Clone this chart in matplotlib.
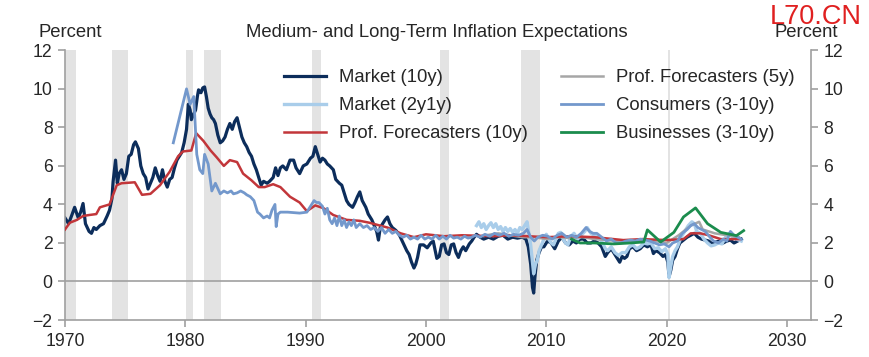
import matplotlib
matplotlib.use("Agg")
import matplotlib.pyplot as plt

plt.rcParams['font.family'] = ['Liberation Sans', 'DejaVu Sans']

# recession periods (start, end) in fractional years
recessions = [(1969.92, 1970.9), (1973.88, 1975.2), (1980.04, 1980.62), (1981.55, 1982.95),
              (1990.55, 1991.25), (2001.2, 2001.9), (2007.92, 2009.45), (2020.1, 2020.3)]

# Market (10y)
mkt10_years = [1970.0, 1970.3, 1970.6, 1970.8, 1971.1, 1971.3, 1971.5, 1971.7, 1972.0, 1972.2,
               1972.4, 1972.6, 1972.9, 1973.2, 1973.5, 1973.7, 1973.9, 1974.0, 1974.2, 1974.35,
               1974.5, 1974.7, 1974.9, 1975.1, 1975.3, 1975.5, 1975.7, 1975.85, 1976.1, 1976.3,
               1976.5, 1976.7, 1976.9, 1977.1, 1977.3, 1977.5, 1977.7, 1977.9, 1978.1, 1978.3,
               1978.5, 1978.7, 1978.9, 1979.1, 1979.3, 1979.5, 1979.7, 1979.9, 1980.1, 1980.25,
               1980.4, 1980.5, 1980.7, 1980.85, 1981.0, 1981.1, 1981.3, 1981.45, 1981.6, 1981.75,
               1981.9, 1982.05, 1982.2, 1982.35, 1982.5, 1982.7, 1982.9, 1983.1, 1983.3, 1983.5,
               1983.7, 1983.9, 1984.1, 1984.3, 1984.5, 1984.7, 1984.9, 1985.1, 1985.3, 1985.5,
               1985.7, 1985.9, 1986.1, 1986.3, 1986.5, 1986.8, 1987.0, 1987.3, 1987.5, 1987.7,
               1987.9, 1988.1, 1988.4, 1988.7, 1989.0, 1989.2, 1989.5, 1989.8, 1990.1, 1990.4,
               1990.6, 1990.8, 1991.0, 1991.2, 1991.4, 1991.6, 1991.8, 1992.0, 1992.3, 1992.5,
               1992.8, 1993.0, 1993.2, 1993.4, 1993.6, 1993.9, 1994.1, 1994.3, 1994.5, 1994.7,
               1995.0, 1995.2, 1995.5, 1995.7, 1995.9, 1996.05, 1996.2, 1996.4, 1996.6, 1996.8,
               1997.0, 1997.2, 1997.5, 1997.8, 1998.1, 1998.4, 1998.6, 1998.8, 1999.0, 1999.15,
               1999.3, 1999.5, 1999.8, 2000.1, 2000.4, 2000.6, 2000.9, 2001.1, 2001.3, 2001.5,
               2001.7, 2001.9, 2002.1, 2002.3, 2002.5, 2002.7, 2002.9, 2003.1, 2003.3, 2003.6,
               2003.8, 2004.0, 2004.2, 2004.5, 2004.8, 2005.2, 2005.6, 2006.0, 2006.4, 2006.8,
               2007.2, 2007.6, 2008.0, 2008.3, 2008.5, 2008.7, 2008.85, 2008.95, 2009.05, 2009.2,
               2009.4, 2009.6, 2009.8, 2010.1, 2010.4, 2010.7, 2011.0, 2011.3, 2011.6, 2011.9,
               2012.2, 2012.5, 2012.8, 2013.1, 2013.4, 2013.7, 2014.0, 2014.3, 2014.6, 2014.9,
               2015.1, 2015.4, 2015.7, 2015.9, 2016.1, 2016.3, 2016.5, 2016.7, 2016.9, 2017.2,
               2017.5, 2017.8, 2018.1, 2018.4, 2018.7, 2018.9, 2019.1, 2019.4, 2019.7, 2019.9,
               2020.1, 2020.2, 2020.35, 2020.5, 2020.7, 2020.9, 2021.1, 2021.4, 2021.7, 2022.0,
               2022.3, 2022.6, 2022.9, 2023.2, 2023.5, 2023.8, 2024.1, 2024.4, 2024.7, 2025.0,
               2025.3, 2025.6, 2025.9, 2026.2]
mkt10_vals = [3.3, 3.0, 3.5, 3.85, 3.3, 3.6, 4.05, 3.0, 2.6, 2.5,
              2.8, 2.7, 2.9, 3.0, 3.4, 3.7, 4.3, 5.2, 6.3, 5.1,
              5.6, 5.8, 5.3, 5.6, 6.5, 6.6, 7.1, 7.25, 6.9, 6.0,
              5.6, 5.4, 4.8, 5.1, 5.4, 5.9, 5.5, 5.2, 5.8, 5.2,
              4.9, 5.3, 5.4, 5.9, 6.3, 6.5, 6.7, 7.2, 7.9, 9.2,
              8.9, 8.4, 8.7, 8.9, 9.6, 9.95, 9.8, 10.05, 10.1, 9.6,
              9.0, 8.7, 8.5, 8.4, 8.2, 7.6, 7.2, 7.3, 7.5, 7.9,
              8.2, 7.9, 8.3, 8.5, 8.0, 7.5, 7.2, 7.0, 6.7, 6.5,
              6.1, 5.8, 5.4, 5.0, 5.2, 5.1, 5.2, 5.4, 5.9, 5.5,
              5.9, 6.0, 5.8, 6.3, 6.3, 5.9, 5.6, 6.0, 6.1, 6.4,
              6.5, 7.0, 6.6, 6.2, 6.4, 6.3, 6.1, 6.0, 5.8, 5.3,
              5.1, 5.0, 4.6, 4.2, 4.0, 3.85, 4.1, 4.4, 4.65, 4.2,
              3.85, 3.5, 3.2, 2.9, 2.6, 2.15, 2.8, 3.0, 3.2, 3.35,
              3.0, 2.8, 2.65, 2.4, 2.0, 1.6, 1.4, 1.0, 0.7, 0.9,
              1.25, 1.9, 1.9, 1.75, 2.0, 2.1, 1.2, 1.3, 1.9, 1.95,
              1.5, 1.4, 1.9, 1.95, 1.5, 1.25, 1.6, 1.8, 1.6, 1.95,
              2.1, 2.3, 2.45, 2.3, 2.2, 2.3, 2.2, 2.35, 2.4, 2.2,
              2.3, 2.25, 2.3, 2.2, 1.8, 0.9, -0.3, -0.6, 0.2, 1.1,
              1.5, 1.8, 1.8, 2.1, 2.0, 1.7, 2.1, 2.3, 2.0, 1.9,
              2.1, 2.0, 2.2, 2.2, 2.0, 2.0, 2.1, 2.0, 1.8, 1.3,
              1.5, 1.7, 1.4, 1.2, 1.0, 1.3, 1.2, 1.3, 1.7, 1.8,
              1.6, 1.7, 1.9, 1.8, 1.9, 1.45, 1.6, 1.5, 1.3, 1.4,
              1.0, 0.25, 0.6, 1.1, 1.3, 1.7, 2.0, 2.15, 2.3, 2.4,
              2.5, 2.3, 2.2, 2.15, 2.1, 1.95, 2.05, 2.1, 2.0, 2.1,
              2.15, 2.0, 2.1, 2.2]

# Market (2y1y)
mkt2y_years = [2004.2, 2004.4, 2004.6, 2004.8, 2005.0, 2005.2, 2005.4, 2005.6, 2005.8, 2006.0,
               2006.2, 2006.4, 2006.6, 2006.8, 2007.0, 2007.2, 2007.4, 2007.6, 2007.8, 2008.0,
               2008.2, 2008.4, 2008.55, 2008.7, 2008.85, 2008.95, 2009.1, 2009.25, 2009.4, 2009.6,
               2009.8, 2010.0, 2010.2, 2010.4, 2010.6, 2010.8, 2011.0, 2011.2, 2011.4, 2011.6,
               2011.8, 2012.0, 2012.3, 2012.6, 2012.9, 2013.2, 2013.4, 2013.7, 2014.0, 2014.3,
               2014.6, 2014.9, 2015.1, 2015.4, 2015.7, 2016.0, 2016.3, 2016.6, 2016.9, 2017.2,
               2017.5, 2017.8, 2018.1, 2018.4, 2018.7, 2019.0, 2019.3, 2019.6, 2019.9, 2020.1,
               2020.2, 2020.35, 2020.5, 2020.7, 2020.9, 2021.2, 2021.5, 2021.8, 2022.1, 2022.3,
               2022.5, 2022.8, 2023.1, 2023.4, 2023.7, 2024.0, 2024.3, 2024.6, 2024.9, 2025.2,
               2025.5, 2025.8, 2026.2]
mkt2y_vals = [2.9, 3.1, 2.8, 3.0, 2.7, 2.9, 3.05, 2.8, 3.0, 2.7,
              2.85, 2.6, 2.8, 2.6, 2.75, 2.55, 2.7, 2.5, 2.8, 2.7,
              2.9, 3.1, 2.5, 1.9, 1.0, 0.4, 0.9, 1.1, 1.6, 1.9,
              2.2, 2.45, 2.2, 2.0, 1.9, 2.2, 2.5, 2.55, 2.2, 2.0,
              1.9, 2.3, 2.5, 2.2, 2.4, 2.6, 2.8, 2.5, 2.4, 2.3,
              2.1, 1.7, 1.6, 1.8, 1.5, 1.35, 1.5, 1.5, 1.8, 1.9,
              1.7, 1.8, 2.0, 1.95, 2.0, 1.7, 1.75, 1.55, 1.7, 1.4,
              0.2, 0.8, 1.3, 1.6, 1.8, 2.3, 2.6, 2.9, 3.1, 3.0,
              2.6, 2.5, 2.2, 2.0, 1.85, 1.9, 2.0, 1.95, 2.3, 2.5,
              2.3, 2.2, 2.1]

# Prof. Forecasters (10y)
spf10_years = [1970.0, 1970.4, 1971.0, 1971.5, 1972.0, 1972.6, 1972.9, 1973.7, 1974.0, 1974.3,
               1974.7, 1975.8, 1976.4, 1977.1, 1977.9, 1978.7, 1979.4, 1979.8, 1980.5, 1980.9,
               1981.2, 1981.5, 1982.1, 1982.6, 1983.2, 1983.7, 1984.3, 1984.8, 1985.5, 1986.1,
               1986.6, 1987.3, 1987.9, 1988.7, 1989.5, 1990.1, 1990.8, 1991.5, 1992.3, 1993.4,
               1994.5, 1995.3, 1996.8, 1997.9, 1999.0, 2000.0, 2001.5, 2003.0, 2005.6, 2007.0,
               2008.5, 2010.0, 2012.0, 2014.0, 2016.4, 2018.0, 2020.0, 2021.4, 2022.0, 2022.8,
               2023.5, 2024.5, 2026.1]
spf10_vals = [2.7, 3.05, 3.2, 3.4, 3.45, 3.5, 3.85, 4.0, 4.5, 5.0,
              5.1, 5.15, 4.5, 4.55, 5.0, 5.7, 6.5, 6.75, 6.8, 7.7,
              7.5, 7.3, 6.8, 6.45, 6.0, 6.3, 6.2, 5.6, 5.25, 4.9,
              4.9, 5.05, 4.9, 4.4, 4.1, 3.65, 3.95, 3.8, 3.45, 3.2,
              3.15, 3.05, 2.8, 2.5, 2.3, 2.45, 2.35, 2.4, 2.35, 2.4,
              2.35, 2.3, 2.35, 2.3, 2.15, 2.2, 2.15, 2.2, 2.5, 2.5,
              2.4, 2.2, 2.2]

# Prof. Forecasters (5y)
spf5_years = [2005.0, 2006.0, 2007.0, 2008.0, 2009.0, 2010.0, 2011.0, 2012.0, 2013.0, 2014.0,
              2015.0, 2016.0, 2017.0, 2018.0, 2019.0, 2020.0, 2021.0, 2022.0, 2022.7, 2023.0,
              2024.0, 2025.0, 2026.0]
spf5_vals = [2.4, 2.5, 2.4, 2.3, 2.3, 2.2, 2.3, 2.25, 2.3, 2.2,
             2.15, 2.1, 2.1, 2.2, 2.1, 2.0, 2.4, 2.9, 3.1, 2.7,
             2.5, 2.4, 2.3]

# Consumers (3-10y)
cons_years = [1979.0, 1980.1, 1980.4, 1980.7, 1980.95, 1981.2, 1981.45, 1981.6, 1981.9, 1982.2,
              1982.5, 1982.9, 1983.2, 1983.5, 1983.8, 1984.0, 1984.3, 1984.6, 1984.9, 1985.1,
              1985.4, 1985.7, 1986.0, 1986.2, 1986.5, 1986.8, 1987.0, 1987.2, 1987.45, 1987.55,
              1987.7, 1987.9, 1988.5, 1989.5, 1990.1, 1990.5, 1990.7, 1990.9, 1991.1, 1991.4,
              1991.6, 1991.8, 1992.0, 1992.2, 1992.4, 1992.6, 1992.8, 1993.0, 1993.2, 1993.4,
              1993.6, 1993.8, 1994.0, 1994.2, 1994.5, 1994.8, 1995.1, 1995.4, 1995.7, 1996.0,
              1996.3, 1996.6, 1996.9, 1997.2, 1997.5, 1997.8, 1998.1, 1998.4, 1998.7, 1999.0,
              1999.3, 1999.6, 1999.9, 2000.2, 2000.5, 2000.8, 2001.1, 2001.4, 2001.7, 2002.0,
              2002.3, 2002.6, 2002.9, 2003.2, 2003.5, 2003.8, 2004.1, 2004.5, 2004.9, 2005.3,
              2005.7, 2006.1, 2006.5, 2006.9, 2007.3, 2007.7, 2008.1, 2008.4, 2008.7, 2009.0,
              2009.3, 2009.7, 2010.1, 2010.5, 2010.9, 2011.3, 2011.7, 2012.1, 2012.5, 2012.9,
              2013.3, 2013.6, 2013.9, 2014.2, 2014.6, 2015.0, 2015.4, 2015.8, 2016.2, 2016.6,
              2017.0, 2017.4, 2017.8, 2018.2, 2018.6, 2019.0, 2019.4, 2019.8, 2020.2, 2020.5,
              2020.9, 2021.3, 2021.7, 2022.0, 2022.3, 2022.6, 2022.9, 2023.2, 2023.6, 2023.9,
              2024.3, 2024.7, 2025.0, 2025.3, 2025.6, 2025.9, 2026.2]
cons_vals = [7.2, 10.0, 9.2, 9.6, 6.6, 5.8, 5.6, 6.6, 6.1, 4.7,
             5.1, 4.55, 4.7, 4.6, 4.7, 4.55, 4.6, 4.7, 4.6, 4.5,
             4.4, 4.2, 3.6, 3.5, 3.3, 3.4, 3.3, 3.7, 4.0, 2.85,
             3.5, 3.6, 3.6, 3.55, 3.6, 4.0, 4.2, 4.1, 4.1, 3.9,
             3.5, 3.8, 3.2, 3.0, 3.3, 2.9, 3.4, 2.9, 3.2, 2.8,
             3.1, 2.9, 3.2, 2.8, 3.0, 2.8, 2.9, 2.7, 2.8, 2.6,
             2.8, 2.5, 2.7, 2.5, 2.6, 2.4, 2.3, 2.4, 2.2, 2.3,
             2.2, 2.4, 2.2, 2.3, 2.2, 2.4, 2.2, 2.35, 2.2, 2.4,
             2.25, 2.3, 2.2, 2.35, 2.25, 2.3, 2.4, 2.3, 2.45, 2.35,
             2.5, 2.4, 2.5, 2.35, 2.45, 2.4, 2.5, 2.7, 2.3, 2.1,
             2.3, 2.4, 2.35, 2.2, 2.4, 2.5, 2.3, 2.4, 2.3, 2.5,
             2.8, 2.6, 2.5, 2.5, 2.3, 2.1, 2.2, 2.0, 2.0, 2.1,
             2.15, 2.1, 2.2, 2.15, 2.1, 2.0, 1.9, 1.95, 1.8, 2.0,
             2.1, 2.5, 2.7, 2.9, 3.0, 2.8, 2.7, 2.6, 2.3, 2.1,
             2.0, 2.2, 2.1, 2.6, 2.4, 2.3, 2.2]

# Businesses (3-10y)
biz_years = [2012.1, 2012.8, 2014.0, 2015.6, 2017.0, 2018.1, 2018.4, 2019.5, 2020.6, 2021.4,
             2022.4, 2023.4, 2024.5, 2025.8, 2026.4]
biz_vals = [2.2, 2.0, 2.0, 1.95, 2.0, 2.05, 2.68, 2.05, 2.55, 3.35,
            3.82, 3.0, 2.55, 2.38, 2.64]

x_ticks = [1970, 1980, 1990, 2000, 2010, 2020, 2030]
y_ticks = [-2, 0, 2, 4, 6, 8, 10, 12]

axis_grey = '#a0a0a0'
text_col = '#262626'

fig = plt.figure(figsize=(8.69, 3.57), dpi=100)
ax = fig.add_axes([0.0748, 0.1036, 0.8585, 0.7554])

for start, end in recessions:
    ax.axvspan(start, end, color='#e3e3e3', lw=0, zorder=0)
ax.axhline(0, color=axis_grey, lw=1.2, zorder=1)

ax.plot(mkt10_years, mkt10_vals, color='#0c2d5b', lw=2.3, label='Market (10y)', zorder=2.5)
ax.plot(mkt2y_years, mkt2y_vals, color='#a9cdea', lw=2.4, label='Market (2y1y)', zorder=2.7)
ax.plot(spf10_years, spf10_vals, color='#c2363a', lw=1.8, label='Prof. Forecasters (10y)', zorder=3.1)
ax.plot(spf5_years, spf5_vals, color='#a6a6a6', lw=1.8, label='Prof. Forecasters (5y)', zorder=3.0)
ax.plot(cons_years, cons_vals, color='#7398cc', lw=2.0, label='Consumers (3-10y)', zorder=3.2)
ax.plot(biz_years, biz_vals, color='#1b8c4d', lw=2.0, label='Businesses (3-10y)', zorder=4)

ax.set_xlim(1970, 2032)
ax.set_ylim(-2, 12)
ax.set_xticks(x_ticks)
ax.set_yticks(y_ticks)

ax.spines['top'].set_visible(False)
for side in ['left', 'right', 'bottom']:
    ax.spines[side].set_color(axis_grey)
    ax.spines[side].set_linewidth(1.2)

ax.tick_params(axis='both', direction='out', length=5, width=1.2, color=axis_grey,
               labelsize=12.7, labelcolor=text_col, pad=4)
ax.tick_params(axis='y', left=True, right=True, labelleft=True, labelright=True)

ax.legend(ncol=2, loc='upper left', bbox_to_anchor=(0.281, 0.965), frameon=False,
          fontsize=13.3, handlelength=2.3, handletextpad=0.67, columnspacing=1.8,
          labelspacing=0.6, borderpad=0, labelcolor=text_col)

fig.text(0.0805, 0.91, 'Percent', ha='center', va='center', fontsize=13.3, color=text_col)
fig.text(0.928, 0.91, 'Percent', ha='center', va='center', fontsize=13.3, color=text_col)
fig.text(0.503, 0.91, 'Medium- and Long-Term Inflation Expectations', ha='center', va='center',
         fontsize=13.3, color=text_col)
fig.text(0.992, 0.952, 'L70.CN', ha='right', va='center', fontsize=19.5, color='#e02020')

fig.savefig('out.png', dpi=100)
